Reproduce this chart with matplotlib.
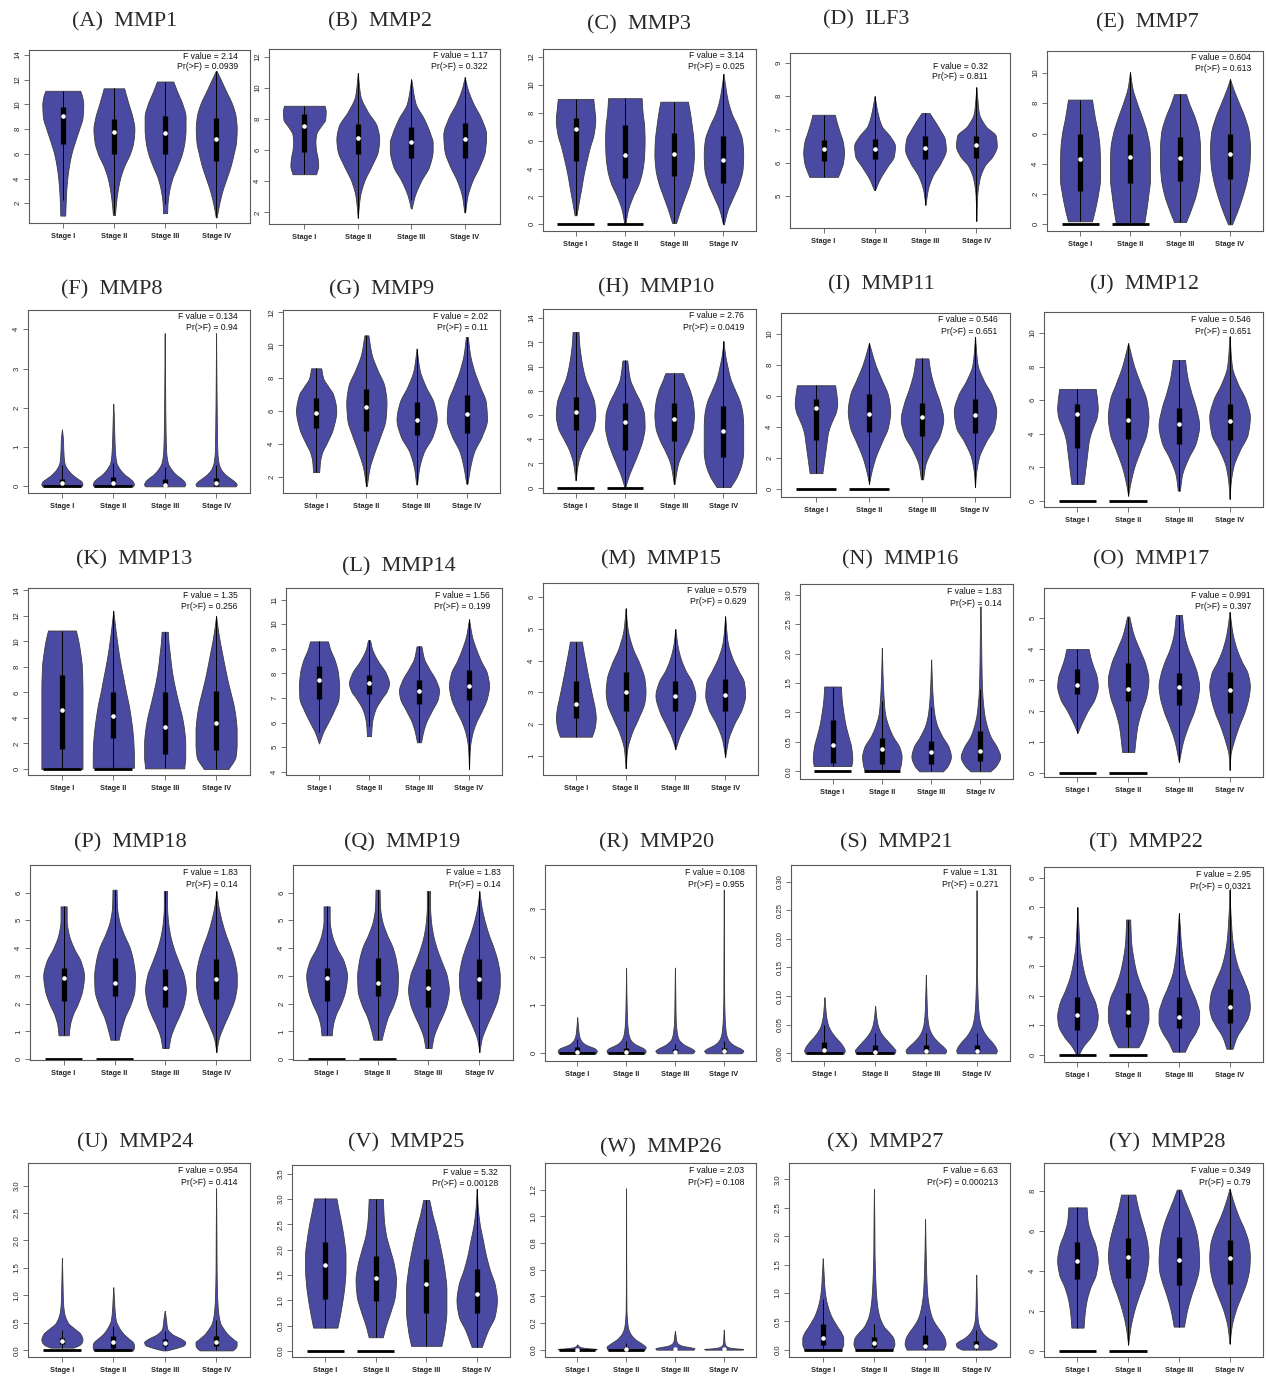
import numpy as np
import matplotlib
matplotlib.use("Agg")
import matplotlib.pyplot as plt

# ---------------------------------------------------------------- data
stages = ["Stage I", "Stage II", "Stage III", "Stage IV"]
letters = list("ABCDEFGHIJKLMNOPQRSTUVWXY")
genes = ["MMP1", "MMP2", "MMP3", "ILF3", "MMP7",
         "MMP8", "MMP9", "MMP10", "MMP11", "MMP12",
         "MMP13", "MMP14", "MMP15", "MMP16", "MMP17",
         "MMP18", "MMP19", "MMP20", "MMP21", "MMP22",
         "MMP24", "MMP25", "MMP26", "MMP27", "MMP28"]
f_values = ["2.14", "1.17", "3.14", "0.32", "0.604",
            "0.134", "2.02", "2.76", "0.546", "0.546",
            "1.35", "1.56", "0.579", "1.83", "0.991",
            "1.83", "1.83", "0.108", "1.31", "2.95",
            "0.954", "5.32", "2.03", "6.63", "0.349"]
p_values = ["0.0939", "0.322", "0.025", "0.811", "0.613",
            "0.94", "0.11", "0.0419", "0.651", "0.651",
            "0.256", "0.199", "0.629", "0.14", "0.397",
            "0.14", "0.14", "0.955", "0.271", "0.0321",
            "0.414", "0.00128", "0.108", "0.000213", "0.79"]

# y-axis ranges and ticks (start, stop, step, decimals)
y_limits = [(0.4, 14.4), (1.25, 12.5), (-0.48, 12.58), (4.03, 9.3), (-0.44, 11.45),
            (-0.17, 4.49), (1.03, 12.14), (-0.44, 14.75), (-0.54, 11.33), (-0.38, 11.26),
            (-0.47, 14.18), (3.87, 11.47), (0.39, 6.45), (-0.13, 3.18), (-0.13, 5.97),
            (-0.03, 6.99), (-0.03, 6.99), (-0.16, 3.91), (-0.0134, 0.329), (-0.25, 6.36),
            (-0.12, 3.41), (-0.12, 3.67), (-0.055, 1.4), (-0.13, 3.29), (-0.32, 9.38)]
y_ticks = [(2, 14, 2, 0), (2, 12, 2, 0), (0, 12, 2, 0), (5, 9, 1, 0), (0, 10, 2, 0),
           (0, 4, 1, 0), (2, 12, 2, 0), (0, 14, 2, 0), (0, 10, 2, 0), (0, 10, 2, 0),
           (0, 14, 2, 0), (4, 11, 1, 0), (1, 6, 1, 0), (0, 3, 0.5, 1), (0, 5, 1, 0),
           (0, 6, 1, 0), (0, 6, 1, 0), (0, 3, 1, 0), (0, 0.3, 0.05, 2), (0, 6, 1, 0),
           (0, 3, 0.5, 1), (0, 3.5, 0.5, 1), (0, 1.2, 0.2, 1), (0, 3, 0.5, 1), (0, 8, 2, 0)]

# stages that also carry a collapsed group drawn as a bar at zero
zero_bars = [[], [], [1, 2], [], [1, 2],
             [1, 2], [], [1, 2], [1, 2], [1, 2],
             [1, 2], [], [], [1, 2], [1, 2],
             [1, 2], [1, 2], [1, 2], [1, 2], [1, 2],
             [1, 2], [1, 2], [1, 2], [1, 2], [1, 2]]

# Violin outlines: knot heights (_y) and relative half-widths (_w) per stage.
# Box rows: [q1, median, q3, lower whisker, upper whisker]
MMP1_y = [[1.0, 2, 3, 4, 5, 6, 7, 8, 9, 10, 10.6, 11.1],
          [1.05, 2, 3, 4, 5, 6, 7, 8, 9, 10, 11.3],
          [1.2, 2, 3, 4, 5, 6, 7, 8, 9, 10, 11, 11.85],
          [0.85, 2, 3, 4, 5, 6, 7, 8, 9, 10, 11, 12, 12.7]]
MMP1_w = [[0.12, 0.14, 0.17, 0.22, 0.3, 0.42, 0.6, 0.8, 0.97, 1.0, 0.95, 0.85],
          [0.05, 0.1, 0.18, 0.3, 0.5, 0.78, 0.95, 1.0, 0.9, 0.72, 0.5],
          [0.1, 0.12, 0.2, 0.35, 0.6, 0.82, 0.95, 1.0, 1.0, 0.85, 0.6, 0.4],
          [0.02, 0.15, 0.3, 0.5, 0.7, 0.85, 0.97, 1.0, 0.95, 0.78, 0.5, 0.22, 0.02]]
MMP1_box = [[6.8, 9.05, 9.8, 2.3, 11.1], [6.0, 7.8, 8.85, 1.1, 11.3],
            [6.0, 7.65, 9.05, 1.9, 11.85], [5.45, 7.2, 8.9, 0.85, 12.7]]

MMP2_y = [[4.45, 5, 5.5, 6, 6.5, 7, 7.5, 8, 8.5, 8.85],
          [1.65, 3, 4, 5, 6, 6.7, 7.5, 8.5, 9.5, 10.95],
          [2.25, 3, 4, 5, 6, 6.5, 7, 8, 9, 10.55],
          [2.0, 3, 4, 5, 6, 7, 8, 9, 10, 10.7]]
MMP2_w = [[0.55, 0.65, 0.62, 0.55, 0.52, 0.55, 0.75, 0.98, 1.0, 0.95],
          [0.0, 0.1, 0.3, 0.65, 0.95, 1.0, 0.9, 0.45, 0.12, 0.0],
          [0.02, 0.15, 0.45, 0.85, 1.0, 1.0, 0.9, 0.6, 0.2, 0.0],
          [0.02, 0.12, 0.35, 0.7, 0.95, 1.0, 0.78, 0.4, 0.12, 0.0]]
MMP2_box = [[5.9, 7.55, 8.3, 4.45, 8.85], [5.75, 6.75, 7.65, 1.65, 10.95],
            [5.5, 6.5, 7.5, 2.8, 10.55], [5.5, 6.7, 7.75, 2.0, 10.7]]

MMP3_y = [[0.65, 1.5, 2.5, 3.5, 4.5, 5.5, 6.5, 7.5, 8.3, 9.0],
          [0, 1, 2, 3, 4, 5, 6, 7, 8, 9.05],
          [0.1, 1, 2, 3, 4, 5, 6, 7, 8, 8.8],
          [0, 1, 2, 3, 4, 5, 6, 7, 8, 9, 10, 10.8]]
MMP3_w = [[0.05, 0.15, 0.28, 0.4, 0.55, 0.72, 0.92, 1.0, 0.95, 0.9],
          [0.02, 0.15, 0.4, 0.72, 0.9, 0.98, 1.0, 0.98, 0.9, 0.85],
          [0.1, 0.3, 0.55, 0.8, 0.95, 1.0, 0.98, 0.9, 0.8, 0.7],
          [0.02, 0.2, 0.5, 0.8, 0.97, 1.0, 0.95, 0.72, 0.4, 0.2, 0.08, 0.0]]
MMP3_box = [[4.55, 6.85, 7.65, 0.65, 9.0], [3.3, 4.95, 7.15, 0.0, 9.05],
            [3.5, 5.05, 6.55, 0.1, 8.8], [2.95, 4.65, 6.35, 0.0, 10.8]]

ILF3_y = [[5.57, 5.8, 6.0, 6.3, 6.6, 6.9, 7.2, 7.44],
          [5.17, 5.5, 5.9, 6.2, 6.5, 6.8, 7.1, 7.5, 8.0],
          [4.73, 5.2, 5.6, 6.0, 6.4, 6.7, 7.0, 7.3, 7.49],
          [4.24, 5.0, 5.5, 5.9, 6.2, 6.5, 6.8, 7.1, 7.5, 7.9, 8.27]]
ILF3_w = [[0.7, 0.85, 0.95, 1.0, 0.95, 0.8, 0.65, 0.55],
          [0.02, 0.25, 0.65, 0.95, 1.0, 0.75, 0.35, 0.15, 0.0],
          [0.0, 0.12, 0.35, 0.75, 1.0, 0.95, 0.7, 0.4, 0.2],
          [0.0, 0.04, 0.15, 0.4, 0.8, 1.0, 0.95, 0.45, 0.12, 0.05, 0.0]]
ILF3_box = [[6.05, 6.42, 6.68, 5.57, 7.44], [6.1, 6.4, 6.72, 5.17, 8.0],
            [6.12, 6.45, 6.8, 4.73, 7.49], [6.15, 6.53, 6.8, 4.24, 8.27]]

MMP7_y = [[0.2, 1, 2, 3, 4, 5, 6, 7, 8.24],
          [0, 1, 2, 3, 4, 5, 6, 7, 8, 9, 10.05],
          [0.15, 1, 2, 3, 4, 5, 6, 7, 8, 8.6],
          [0, 1, 2, 3, 4, 5, 6, 7, 8, 9, 9.6]]
MMP7_w = [[0.6, 0.75, 0.9, 1.0, 1.0, 0.98, 0.9, 0.75, 0.6],
          [0.7, 0.82, 0.92, 1.0, 1.0, 0.98, 0.85, 0.62, 0.35, 0.12, 0.0],
          [0.3, 0.55, 0.8, 0.95, 1.0, 1.0, 0.95, 0.75, 0.45, 0.3],
          [0.1, 0.4, 0.65, 0.85, 0.97, 1.0, 0.95, 0.75, 0.45, 0.15, 0.0]]
MMP7_box = [[2.2, 4.3, 6.0, 0.2, 8.24], [2.75, 4.45, 6.0, 0.0, 10.05],
            [2.85, 4.4, 5.8, 0.15, 8.6], [3.0, 4.65, 6.0, 0.0, 9.6]]

MMP8_y = [[0, 0.05, 0.12, 0.2, 0.3, 0.45, 0.6, 0.9, 1.2, 1.45],
          [0, 0.05, 0.12, 0.2, 0.3, 0.45, 0.6, 0.9, 1.3, 1.7, 2.1],
          [0, 0.05, 0.12, 0.2, 0.3, 0.45, 0.6, 0.9, 1.5, 2.5, 3.9],
          [0, 0.05, 0.12, 0.2, 0.3, 0.45, 0.6, 0.9, 1.5, 2.5, 3.9]]
MMP8_w = [[0.95, 1.0, 0.95, 0.75, 0.5, 0.25, 0.12, 0.07, 0.05, 0.0],
          [0.95, 1.0, 0.95, 0.8, 0.55, 0.3, 0.15, 0.08, 0.05, 0.03, 0.0],
          [0.95, 1.0, 0.95, 0.8, 0.55, 0.3, 0.15, 0.07, 0.04, 0.02, 0.0],
          [0.95, 1.0, 0.9, 0.7, 0.45, 0.22, 0.12, 0.06, 0.04, 0.02, 0.0]]
MMP8_box = [[0.0, 0.08, 0.18, 0.0, 0.55], [0.0, 0.08, 0.25, 0.0, 0.6],
            [0.0, 0.04, 0.18, 0.0, 0.5], [0.02, 0.08, 0.22, 0.0, 0.55]]

MMP9_y = [[2.3, 3, 3.5, 4, 5, 6, 7, 7.5, 8, 8.6],
          [1.45, 2.5, 3.5, 4.5, 5.5, 6.5, 7.5, 8.5, 9.5, 10.6],
          [1.55, 2.5, 3.5, 4.5, 5.5, 6.5, 7.5, 8.5, 9.8],
          [1.6, 2.5, 3.5, 4.5, 5.5, 6.5, 7.5, 8.5, 9.5, 10.5]]
MMP9_w = [[0.15, 0.2, 0.3, 0.5, 0.85, 1.0, 0.85, 0.6, 0.35, 0.25],
          [0.02, 0.15, 0.4, 0.7, 0.95, 1.0, 0.9, 0.55, 0.25, 0.1],
          [0.02, 0.12, 0.35, 0.8, 1.0, 0.85, 0.45, 0.15, 0.0],
          [0.03, 0.15, 0.35, 0.75, 1.0, 0.95, 0.65, 0.35, 0.15, 0.05]]
MMP9_box = [[5.0, 5.9, 6.8, 2.3, 8.6], [4.8, 6.25, 7.35, 1.45, 10.6],
            [4.55, 5.45, 6.55, 1.55, 9.8], [4.7, 5.85, 7.0, 1.6, 10.5]]

MMP10_y = [[0.6, 2, 3, 4, 5, 6, 7, 8, 9, 10, 11, 12, 12.85],
           [0.05, 1, 2, 3, 4, 5, 6, 7, 8, 9, 10.5],
           [0.3, 1, 2, 3, 4, 5, 6, 7, 8, 9, 9.45],
           [0.05, 1, 2, 3, 4, 5, 6, 7, 8, 9, 10, 11, 12.1]]
MMP10_w = [[0.0, 0.12, 0.3, 0.6, 0.9, 1.0, 0.95, 0.75, 0.5, 0.35, 0.25, 0.18, 0.15],
           [0.02, 0.2, 0.45, 0.7, 0.9, 1.0, 0.98, 0.8, 0.5, 0.25, 0.12],
           [0.02, 0.08, 0.2, 0.45, 0.75, 0.95, 1.0, 0.95, 0.8, 0.55, 0.45],
           [0.35, 0.7, 0.92, 1.0, 1.0, 1.0, 0.97, 0.85, 0.6, 0.35, 0.2, 0.08, 0.0]]
MMP10_box = [[4.75, 6.25, 7.45, 0.6, 12.85], [3.1, 5.45, 6.95, 0.05, 10.5],
             [3.85, 5.65, 7.0, 0.3, 9.45], [2.5, 4.7, 6.75, 0.05, 12.1]]

MMP11_y = [[1.0, 1.5, 2, 2.5, 3, 3.5, 4, 4.5, 5, 5.5, 6, 6.67],
           [0.3, 1, 2, 3, 4, 5, 6, 7, 8, 9.4],
           [0.6, 1.5, 2.5, 3.5, 4.5, 5.5, 6.5, 7.5, 8.4],
           [0.1, 1, 2, 3, 4, 5, 6, 7, 8, 9.8]]
MMP11_w = [[0.3, 0.35, 0.4, 0.45, 0.5, 0.55, 0.65, 0.8, 0.95, 1.0, 0.97, 0.9],
           [0.0, 0.1, 0.3, 0.6, 0.9, 1.0, 0.9, 0.6, 0.3, 0.0],
           [0.05, 0.15, 0.45, 0.85, 1.0, 0.85, 0.6, 0.4, 0.3],
           [0.0, 0.05, 0.18, 0.5, 0.9, 1.0, 0.8, 0.4, 0.12, 0.0]]
MMP11_box = [[3.15, 5.2, 5.75, 1.0, 6.67], [3.65, 4.8, 6.1, 0.3, 9.4],
             [3.4, 4.6, 5.55, 0.6, 8.4], [3.6, 4.75, 5.75, 0.1, 9.8]]

MMP12_y = MMP11_y
MMP12_w = MMP11_w
MMP12_box = MMP11_box

MMP13_y = [[0, 1, 2, 4, 6, 8, 9, 10, 10.85],
           [0.1, 1, 2, 3, 4, 5, 6, 7, 8, 9, 10, 11, 12.4],
           [0.05, 1, 2, 3, 4, 5, 6, 7, 8, 9, 10, 10.75],
           [0, 1, 2, 3, 4, 5, 6, 7, 8, 9, 10, 11, 12]]
MMP13_w = [[1.0, 1.0, 1.0, 1.0, 1.0, 0.97, 0.9, 0.8, 0.68],
           [1.0, 1.0, 0.98, 0.93, 0.85, 0.75, 0.62, 0.5, 0.38, 0.27, 0.18, 0.1, 0.0],
           [0.95, 1.0, 1.0, 0.95, 0.85, 0.7, 0.55, 0.42, 0.32, 0.25, 0.18, 0.15],
           [0.6, 0.95, 1.0, 1.0, 0.95, 0.85, 0.7, 0.55, 0.42, 0.3, 0.18, 0.08, 0.0]]
MMP13_box = [[1.6, 4.6, 7.35, 0.0, 10.85], [2.4, 4.15, 6.0, 0.1, 12.4],
             [1.2, 3.3, 6.0, 0.05, 10.75], [1.5, 3.6, 6.1, 0.0, 12.0]]

MMP14_y = [[5.15, 5.6, 6.0, 6.5, 7.0, 7.5, 8.0, 8.5, 9.0, 9.3],
           [5.45, 6.0, 6.5, 7.0, 7.3, 7.6, 8.0, 8.5, 9.0, 9.35],
           [5.2, 5.6, 6.0, 6.5, 7.0, 7.3, 7.7, 8.2, 8.6, 9.1],
           [4.1, 5.0, 5.5, 6.0, 6.5, 7.0, 7.5, 8.0, 8.5, 9.0, 9.5, 10.2]]
MMP14_w = [[0.0, 0.2, 0.45, 0.75, 0.98, 1.0, 0.95, 0.8, 0.55, 0.45],
           [0.1, 0.15, 0.3, 0.65, 0.9, 1.0, 0.85, 0.45, 0.15, 0.05],
           [0.1, 0.2, 0.35, 0.65, 0.95, 1.0, 0.85, 0.5, 0.25, 0.12],
           [0.0, 0.05, 0.15, 0.35, 0.65, 0.9, 1.0, 0.9, 0.6, 0.35, 0.15, 0.0]]
MMP14_box = [[6.95, 7.75, 8.3, 5.6, 9.3], [7.15, 7.6, 7.95, 5.85, 9.35],
             [6.75, 7.3, 7.75, 5.2, 9.1], [6.9, 7.5, 8.15, 4.1, 10.2]]

MMP15_y = [[1.6, 1.9, 2.2, 2.5, 2.8, 3.1, 3.5, 3.9, 4.3, 4.6],
           [0.6, 1.2, 1.7, 2.2, 2.7, 3.0, 3.4, 3.9, 4.4, 5.0, 5.65],
           [1.2, 1.6, 2.0, 2.4, 2.9, 3.3, 3.7, 4.1, 4.5, 5.0],
           [0.95, 1.5, 2.0, 2.5, 2.9, 3.3, 3.7, 4.1, 4.6, 5.4]]
MMP15_w = [[0.8, 0.95, 1.0, 0.95, 0.85, 0.75, 0.62, 0.5, 0.38, 0.3],
           [0.0, 0.08, 0.3, 0.65, 0.95, 1.0, 0.95, 0.7, 0.35, 0.1, 0.0],
           [0.0, 0.2, 0.5, 0.8, 1.0, 0.85, 0.5, 0.25, 0.1, 0.0],
           [0.0, 0.15, 0.45, 0.85, 1.0, 0.95, 0.65, 0.35, 0.12, 0.0]]
MMP15_box = [[2.2, 2.62, 3.35, 1.6, 4.6], [2.4, 3.0, 3.65, 0.6, 5.65],
             [2.4, 2.88, 3.35, 1.2, 5.0], [2.42, 2.9, 3.42, 0.95, 5.4]]

MMP16_y = [[0.09, 0.2, 0.4, 0.6, 0.8, 1.0, 1.2, 1.44],
           [0.0, 0.1, 0.25, 0.4, 0.6, 0.8, 1.0, 1.3, 1.6, 2.1],
           [0.0, 0.1, 0.25, 0.4, 0.6, 0.8, 1.0, 1.3, 1.6, 1.9],
           [0.0, 0.1, 0.25, 0.4, 0.6, 0.8, 1.0, 1.4, 1.8, 2.3, 2.8]]
MMP16_w = [[0.95, 1.0, 0.95, 0.8, 0.65, 0.55, 0.47, 0.42],
           [0.85, 0.95, 1.0, 0.9, 0.55, 0.3, 0.15, 0.08, 0.04, 0.0],
           [0.6, 0.85, 1.0, 0.9, 0.55, 0.28, 0.15, 0.07, 0.03, 0.0],
           [0.5, 0.8, 1.0, 0.85, 0.5, 0.3, 0.18, 0.08, 0.05, 0.03, 0.0]]
MMP16_box = [[0.15, 0.44, 0.87, 0.09, 1.44], [0.13, 0.38, 0.57, 0.0, 1.2],
             [0.12, 0.32, 0.52, 0.0, 1.1], [0.18, 0.34, 0.68, 0.0, 1.4]]

MMP17_y = [[1.29, 1.6, 2.0, 2.4, 2.8, 3.1, 3.4, 3.7, 4.0],
           [0.68, 1.0, 1.5, 2.0, 2.5, 3.0, 3.5, 4.0, 4.5, 5.05],
           [0.35, 1.0, 1.5, 2.0, 2.5, 2.8, 3.2, 3.6, 4.0, 4.5, 5.1],
           [0.1, 0.6, 1.0, 1.5, 2.0, 2.5, 2.8, 3.2, 3.6, 4.0, 4.5, 5.2]]
MMP17_w = [[0.0, 0.2, 0.5, 0.85, 1.0, 0.95, 0.8, 0.65, 0.55],
           [0.3, 0.35, 0.45, 0.65, 0.9, 1.0, 0.85, 0.55, 0.25, 0.05],
           [0.0, 0.2, 0.45, 0.75, 0.95, 1.0, 0.9, 0.7, 0.45, 0.25, 0.15],
           [0.0, 0.05, 0.2, 0.45, 0.75, 0.95, 1.0, 0.9, 0.6, 0.35, 0.15, 0.0]]
MMP17_box = [[2.55, 2.83, 3.35, 1.29, 4.0], [2.32, 2.72, 3.55, 0.68, 5.05],
             [2.2, 2.78, 3.22, 0.35, 5.1], [1.95, 2.67, 3.25, 0.1, 5.2]]

MMP18_y = [[0.86, 1.2, 1.6, 2.0, 2.5, 3.0, 3.5, 4.0, 4.5, 5.0, 5.5],
           [0.7, 1.0, 1.5, 2.0, 2.5, 3.0, 3.5, 4.0, 4.5, 5.0, 5.5, 6.1],
           [0.4, 0.8, 1.2, 1.6, 2.0, 2.5, 3.0, 3.5, 4.0, 4.5, 5.0, 5.5, 6.05],
           [0.25, 0.7, 1.2, 1.7, 2.2, 2.7, 3.0, 3.5, 4.0, 4.5, 5.0, 5.5, 6.05]]
MMP18_w = [[0.25, 0.3, 0.45, 0.7, 0.92, 1.0, 0.85, 0.5, 0.25, 0.15, 0.15],
           [0.2, 0.3, 0.5, 0.8, 0.98, 1.0, 0.92, 0.75, 0.45, 0.22, 0.12, 0.1],
           [0.15, 0.25, 0.45, 0.7, 0.9, 1.0, 0.9, 0.65, 0.4, 0.22, 0.12, 0.08, 0.08],
           [0.0, 0.1, 0.35, 0.65, 0.9, 1.0, 1.0, 0.9, 0.7, 0.45, 0.25, 0.1, 0.0]]
MMP18_box = [[2.1, 2.92, 3.27, 0.86, 5.5], [2.27, 2.75, 3.65, 0.7, 6.1],
             [1.88, 2.58, 3.25, 0.4, 6.05], [2.18, 2.9, 3.6, 0.25, 6.05]]

MMP19_y = MMP18_y
MMP19_w = MMP18_w
MMP19_box = MMP18_box

MMP20_y = [[0.0, 0.05, 0.1, 0.15, 0.2, 0.3, 0.4, 0.55, 0.75],
           [0.0, 0.05, 0.1, 0.15, 0.2, 0.3, 0.45, 0.7, 1.2, 1.78],
           [0.0, 0.05, 0.1, 0.15, 0.2, 0.3, 0.45, 0.7, 1.2, 1.78],
           [0.0, 0.05, 0.1, 0.15, 0.2, 0.3, 0.45, 0.7, 1.2, 2.0, 3.4]]
MMP20_w = [[0.95, 1.0, 0.9, 0.6, 0.35, 0.15, 0.08, 0.04, 0.0],
           [0.95, 1.0, 0.9, 0.65, 0.42, 0.2, 0.1, 0.05, 0.02, 0.0],
           [0.9, 1.0, 0.85, 0.6, 0.4, 0.18, 0.09, 0.04, 0.02, 0.0],
           [0.9, 1.0, 0.85, 0.6, 0.4, 0.2, 0.1, 0.05, 0.02, 0.015, 0.0]]
MMP20_box = [[0.0, 0.03, 0.13, 0.0, 0.3], [0.0, 0.03, 0.1, 0.0, 0.25],
             [0.0, 0.03, 0.08, 0.0, 0.2], [0.0, 0.04, 0.1, 0.0, 0.25]]

MMP21_y = [[0, 0.005, 0.01, 0.02, 0.03, 0.04, 0.05, 0.065, 0.08, 0.098],
           [0, 0.005, 0.01, 0.02, 0.03, 0.04, 0.05, 0.065, 0.083],
           [0, 0.005, 0.01, 0.02, 0.03, 0.04, 0.05, 0.07, 0.1, 0.137],
           [0, 0.005, 0.01, 0.02, 0.03, 0.04, 0.05, 0.07, 0.1, 0.15, 0.2, 0.285]]
MMP21_w = [[0.95, 1.0, 0.95, 0.75, 0.5, 0.3, 0.17, 0.08, 0.04, 0.0],
           [0.95, 1.0, 0.9, 0.65, 0.4, 0.22, 0.12, 0.05, 0.0],
           [0.95, 1.0, 0.9, 0.6, 0.35, 0.2, 0.12, 0.06, 0.03, 0.0],
           [0.95, 1.0, 0.95, 0.75, 0.5, 0.32, 0.2, 0.1, 0.05, 0.02, 0.01, 0.0]]
MMP21_box = [[0.0, 0.005, 0.02, 0.0, 0.05], [0.0, 0.003, 0.015, 0.0, 0.035],
             [0.0, 0.004, 0.015, 0.0, 0.035], [0.0, 0.004, 0.015, 0.0, 0.035]]

MMP22_y = [[0.0, 0.3, 0.6, 1.0, 1.3, 1.7, 2.2, 2.7, 3.2, 3.7, 4.3, 5.0],
           [0.25, 0.5, 0.9, 1.2, 1.5, 1.9, 2.3, 2.8, 3.3, 3.8, 4.2, 4.58],
           [0.1, 0.4, 0.8, 1.1, 1.4, 1.8, 2.3, 2.8, 3.3, 3.8, 4.3, 4.8],
           [0.2, 0.6, 1.0, 1.3, 1.6, 2.0, 2.5, 3.0, 3.5, 4.0, 4.5, 5.0, 5.6]]
MMP22_w = [[0.05, 0.3, 0.65, 0.95, 1.0, 0.9, 0.6, 0.35, 0.2, 0.1, 0.05, 0.0],
           [0.5, 0.7, 0.9, 1.0, 1.0, 0.9, 0.65, 0.4, 0.25, 0.15, 0.12, 0.1],
           [0.3, 0.5, 0.85, 1.0, 1.0, 0.85, 0.55, 0.3, 0.18, 0.1, 0.05, 0.0],
           [0.15, 0.35, 0.7, 0.92, 1.0, 0.95, 0.7, 0.4, 0.22, 0.12, 0.07, 0.03, 0.0]]
MMP22_box = [[0.85, 1.35, 1.95, 0.0, 5.0], [0.95, 1.45, 2.1, 0.25, 4.58],
             [0.9, 1.28, 1.97, 0.1, 4.8], [1.08, 1.62, 2.22, 0.2, 5.6]]

MMP24_y = [[0.05, 0.1, 0.15, 0.2, 0.3, 0.4, 0.5, 0.7, 0.9, 1.2, 1.68],
           [0.0, 0.05, 0.1, 0.15, 0.2, 0.3, 0.4, 0.55, 0.75, 0.95, 1.15],
           [0.0, 0.05, 0.1, 0.15, 0.2, 0.3, 0.4, 0.5, 0.6, 0.72],
           [0.0, 0.05, 0.1, 0.15, 0.2, 0.3, 0.4, 0.5, 0.7, 1.0, 1.5, 2.2, 2.95]]
MMP24_w = [[0.55, 0.85, 0.97, 1.0, 0.9, 0.6, 0.3, 0.1, 0.05, 0.03, 0.0],
           [0.95, 1.0, 1.0, 0.95, 0.8, 0.5, 0.3, 0.12, 0.06, 0.03, 0.0],
           [0.1, 0.6, 0.95, 1.0, 0.85, 0.35, 0.12, 0.08, 0.05, 0.0],
           [0.8, 0.95, 1.0, 1.0, 0.85, 0.55, 0.35, 0.2, 0.1, 0.05, 0.025, 0.015, 0.0]]
MMP24_box = [[0.12, 0.17, 0.22, 0.05, 0.37], [0.05, 0.15, 0.27, 0.0, 0.45],
             [0.08, 0.13, 0.2, 0.0, 0.35], [0.08, 0.15, 0.27, 0.0, 0.55]]

MMP25_y = [[0.46, 0.7, 1.0, 1.3, 1.6, 1.9, 2.2, 2.5, 2.8, 3.01],
           [0.27, 0.5, 0.8, 1.1, 1.4, 1.7, 2.0, 2.3, 2.6, 3.0],
           [0.1, 0.4, 0.8, 1.2, 1.6, 2.0, 2.4, 2.7, 2.98],
           [0.08, 0.4, 0.7, 1.0, 1.3, 1.6, 1.9, 2.2, 2.5, 2.8, 3.2]]
MMP25_w = [[0.6, 0.72, 0.85, 0.95, 1.0, 1.0, 0.92, 0.8, 0.65, 0.55],
           [0.35, 0.5, 0.75, 0.95, 1.0, 0.9, 0.7, 0.5, 0.4, 0.35],
           [0.75, 0.9, 1.0, 1.0, 0.9, 0.72, 0.5, 0.3, 0.15],
           [0.25, 0.55, 0.9, 1.0, 0.9, 0.65, 0.45, 0.3, 0.15, 0.06, 0.0]]
MMP25_box = [[1.03, 1.7, 2.15, 0.46, 3.01], [0.98, 1.43, 1.87, 0.27, 3.0],
             [0.75, 1.32, 1.82, 0.1, 2.98], [0.75, 1.12, 1.62, 0.08, 3.2]]

MMP26_y = [[0.0, 0.005, 0.01, 0.02, 0.03, 0.04],
           [0.0, 0.02, 0.04, 0.06, 0.08, 0.1, 0.13, 0.17, 0.22, 0.3, 0.5, 1.21],
           [0.0, 0.01, 0.02, 0.03, 0.05, 0.08, 0.11, 0.14],
           [0.0, 0.005, 0.01, 0.02, 0.04, 0.07, 0.1, 0.15]]
MMP26_w = [[0.9, 1.0, 0.6, 0.15, 0.05, 0.0],
           [0.95, 1.0, 0.85, 0.65, 0.45, 0.32, 0.18, 0.09, 0.05, 0.02, 0.01, 0.0],
           [0.95, 1.0, 0.7, 0.35, 0.12, 0.05, 0.03, 0.0],
           [0.95, 1.0, 0.6, 0.2, 0.06, 0.03, 0.02, 0.0]]
MMP26_box = [[0.0, 0.0, 0.005, 0.0, 0.01], [0.0, 0.005, 0.02, 0.0, 0.05],
             [0.0, 0.003, 0.01, 0.0, 0.02], [0.0, 0.002, 0.006, 0.0, 0.02]]

MMP27_y = [[0.0, 0.1, 0.2, 0.3, 0.4, 0.5, 0.6, 0.75, 0.9, 1.1, 1.35, 1.61],
           [0.0, 0.1, 0.2, 0.3, 0.4, 0.5, 0.6, 0.8, 1.0, 1.3, 1.7, 2.2, 2.83],
           [0.0, 0.1, 0.2, 0.3, 0.4, 0.5, 0.6, 0.8, 1.0, 1.3, 1.7, 2.3],
           [0.0, 0.05, 0.1, 0.15, 0.2, 0.3, 0.4, 0.5, 0.7, 1.0, 1.32]]
MMP27_w = [[0.9, 1.0, 1.0, 0.9, 0.72, 0.55, 0.4, 0.25, 0.15, 0.08, 0.04, 0.0],
           [0.9, 1.0, 0.95, 0.75, 0.5, 0.35, 0.25, 0.15, 0.1, 0.06, 0.03, 0.02, 0.0],
           [0.9, 1.0, 0.95, 0.8, 0.6, 0.42, 0.3, 0.17, 0.1, 0.06, 0.03, 0.0],
           [0.7, 0.95, 1.0, 0.85, 0.6, 0.3, 0.15, 0.08, 0.04, 0.02, 0.0]]
MMP27_box = [[0.08, 0.21, 0.45, 0.0, 0.9], [0.05, 0.11, 0.22, 0.0, 0.45],
             [0.02, 0.07, 0.25, 0.0, 0.6], [0.02, 0.06, 0.16, 0.0, 0.35]]

MMP28_y = [[1.15, 1.8, 2.5, 3.2, 3.8, 4.5, 5.2, 5.9, 6.5, 7.16],
           [0.3, 1.2, 2.0, 2.8, 3.5, 4.2, 4.7, 5.3, 6.0, 6.7, 7.3, 7.8],
           [1.2, 2.0, 2.8, 3.5, 4.0, 4.5, 5.0, 5.7, 6.4, 7.0, 7.5, 8.05],
           [0.35, 1.2, 2.0, 2.8, 3.5, 4.2, 4.7, 5.3, 6.0, 6.7, 7.4, 8.1]]
MMP28_w = [[0.3, 0.35, 0.45, 0.65, 0.9, 1.0, 0.9, 0.65, 0.5, 0.45],
           [0.0, 0.12, 0.3, 0.55, 0.8, 0.95, 1.0, 0.95, 0.8, 0.6, 0.45, 0.35],
           [0.25, 0.4, 0.62, 0.85, 0.97, 1.0, 0.98, 0.9, 0.72, 0.5, 0.3, 0.1],
           [0.0, 0.1, 0.3, 0.6, 0.85, 0.98, 1.0, 0.95, 0.75, 0.45, 0.2, 0.0]]
MMP28_box = [[3.6, 4.48, 5.45, 1.15, 7.16], [3.62, 4.7, 5.65, 0.3, 7.8],
             [3.27, 4.53, 5.68, 1.2, 8.05], [3.35, 4.65, 5.55, 0.35, 8.1]]

violin_y = [MMP1_y, MMP2_y, MMP3_y, ILF3_y, MMP7_y, MMP8_y, MMP9_y, MMP10_y,
            MMP11_y, MMP12_y, MMP13_y, MMP14_y, MMP15_y, MMP16_y, MMP17_y,
            MMP18_y, MMP19_y, MMP20_y, MMP21_y, MMP22_y, MMP24_y, MMP25_y,
            MMP26_y, MMP27_y, MMP28_y]
violin_w = [MMP1_w, MMP2_w, MMP3_w, ILF3_w, MMP7_w, MMP8_w, MMP9_w, MMP10_w,
            MMP11_w, MMP12_w, MMP13_w, MMP14_w, MMP15_w, MMP16_w, MMP17_w,
            MMP18_w, MMP19_w, MMP20_w, MMP21_w, MMP22_w, MMP24_w, MMP25_w,
            MMP26_w, MMP27_w, MMP28_w]
violin_box = [MMP1_box, MMP2_box, MMP3_box, ILF3_box, MMP7_box, MMP8_box, MMP9_box,
              MMP10_box, MMP11_box, MMP12_box, MMP13_box, MMP14_box, MMP15_box,
              MMP16_box, MMP17_box, MMP18_box, MMP19_box, MMP20_box, MMP21_box,
              MMP22_box, MMP24_box, MMP25_box, MMP26_box, MMP27_box, MMP28_box]

# ---------------------------------------------------------------- layout (pixels)
W, H = 1266, 1377
# plot frames: left, top, right, bottom
frames = [(29, 50, 250, 223), (269, 49, 500, 224), (543, 49, 756, 231), (790, 53, 1010, 228), (1047, 51, 1263, 231),
          (28, 310, 250, 493), (283, 310, 500, 493), (543, 309, 756, 493), (781, 313, 1010, 497), (1044, 312, 1263, 507),
          (28, 588, 250, 775), (286, 588, 502, 775), (543, 583, 758, 775), (800, 584, 1013, 779), (1044, 588, 1263, 777),
          (30, 865, 250, 1060), (293, 865, 513, 1060), (545, 865, 756, 1061), (791, 865, 1010, 1061), (1044, 867, 1263, 1062),
          (28, 1163, 250, 1357), (292, 1165, 510, 1357), (545, 1163, 756, 1357), (789, 1163, 1010, 1357), (1044, 1163, 1263, 1357)]
# title centres
title_xy = [(125, 22), (380, 22), (639, 25), (866, 20), (1147, 23),
            (112, 290), (382, 290), (656, 288), (881, 285), (1145, 285),
            (134, 560), (399, 567), (661, 560), (900, 560), (1151, 560),
            (130, 843), (402, 843), (657, 843), (896, 843), (1146, 843),
            (135, 1143), (406, 1143), (661, 1148), (885, 1143), (1167, 1143)]

VIOLIN = "#4a4aa3"
EDGE = "#3c3c3c"
FRAME = "#5a5a5a"
SANS = ["Liberation Sans", "DejaVu Sans"]
SERIF = ["Liberation Serif", "DejaVu Serif"]


def pchip(x, y, xn):
    """Monotone piecewise-cubic curve through the outline knots."""
    x = np.asarray(x, float)
    y = np.asarray(y, float)
    h = np.diff(x)
    d = np.diff(y) / h
    n = len(x)
    m = np.zeros(n)
    for k in range(1, n - 1):
        if d[k - 1] * d[k] > 0:
            w1 = 2 * h[k] + h[k - 1]
            w2 = h[k] + 2 * h[k - 1]
            m[k] = (w1 + w2) / (w1 / d[k - 1] + w2 / d[k])
    m[0] = d[0]
    m[-1] = d[-1]
    idx = np.clip(np.searchsorted(x, xn) - 1, 0, n - 2)
    t = (xn - x[idx]) / h[idx]
    h00 = 2 * t**3 - 3 * t**2 + 1
    h10 = t**3 - 2 * t**2 + t
    h01 = -2 * t**3 + 3 * t**2
    h11 = t**3 - t**2
    return h00 * y[idx] + h10 * h[idx] * m[idx] + h01 * y[idx + 1] + h11 * h[idx] * m[idx + 1]


fig = plt.figure(figsize=(W / 100, H / 100), dpi=100)
fig.patch.set_facecolor("white")

positions = [1, 2, 3, 4]

for i in range(25):
    l, t, r, b = frames[i]
    ax = fig.add_axes([l / W, 1 - b / H, (r - l) / W, (b - t) / H])

    stats = []
    for ys, ws, bx in zip(violin_y[i], violin_w[i], violin_box[i]):
        grid = np.linspace(ys[0], ys[-1], 400)
        vals = np.clip(pchip(ys, ws, grid), 0, None)
        stats.append(dict(coords=grid, vals=vals, mean=bx[1], median=bx[1],
                          min=ys[0], max=ys[-1]))
    parts = ax.violin(stats, positions=positions, widths=0.8,
                      showmeans=False, showextrema=False, showmedians=False)
    for body in parts["bodies"]:
        body.set_facecolor(VIOLIN)
        body.set_edgecolor(EDGE)
        body.set_linewidth(0.6)
        body.set_alpha(1)
        body.set_zorder(2)

    for p in zero_bars[i]:
        ax.hlines(0, p - 0.37, p + 0.37, color="black", lw=2.0, zorder=3)

    for p, bx in zip(positions, violin_box[i]):
        q1, med, q3, lo, hi = bx
        ax.vlines(p, lo, hi, color="black", lw=0.7, zorder=4)
        ax.vlines(p, q1, q3, color="black", lw=3.8, zorder=5)
        ax.plot(p, med, "o", color="white", ms=3.3, mec="none", zorder=6)

    ax.set_xlim(0.34, 4.66)
    ax.set_ylim(*y_limits[i])

    s0, s1, st, dec = y_ticks[i]
    ticks = np.arange(s0, s1 + st / 2, st)
    ax.set_yticks(ticks)
    ax.set_yticklabels([f"{v:.{dec}f}" for v in ticks], rotation=90, va="center",
                       fontsize=5.6, family=SANS)
    ax.set_xticks(positions)
    ax.set_xticklabels(stages, fontsize=5.3, family=SANS, fontweight="bold")
    ax.tick_params(axis="both", direction="out", length=3.5, width=0.6, colors=FRAME,
                   labelcolor="#262626")
    ax.tick_params(axis="x", pad=4)
    ax.tick_params(axis="y", pad=2)
    for sp in ax.spines.values():
        sp.set_color(FRAME)
        sp.set_linewidth(0.8)

    tx = 0.90 if genes[i] == "ILF3" else 0.945
    ty1, ty2 = (0.925, 0.865) if genes[i] == "ILF3" else (0.962, 0.902)
    ax.text(tx, ty1, f"F value = {f_values[i]}", transform=ax.transAxes,
            ha="right", va="center", fontsize=6.2, family=SANS, color="#111111")
    ax.text(tx, ty2, f"Pr(>F) = {p_values[i]}", transform=ax.transAxes,
            ha="right", va="center", fontsize=6.2, family=SANS, color="#111111")

    cx, cy = title_xy[i]
    fig.text(cx / W, 1 - cy / H, f"({letters[i]})  {genes[i]}", ha="center", va="center",
             fontsize=16, family=SERIF, color="#2a2a2a")

fig.savefig("out.png", dpi=100, facecolor="white")
